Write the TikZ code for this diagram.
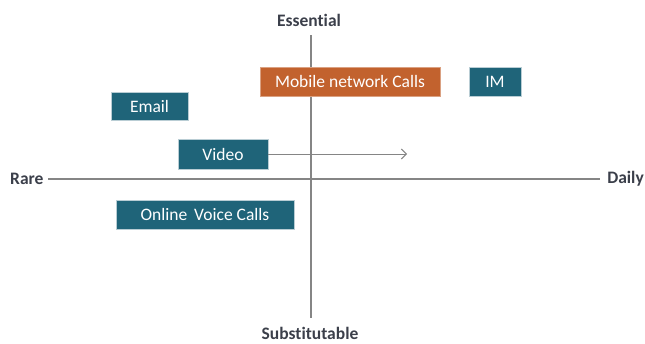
\documentclass[tikz,border=0pt]{standalone}
\usepackage{fontspec}
\setmainfont{Carlito}[Ligatures={NoCommon,NoContextual}]
\usetikzlibrary{arrows.meta}
\definecolor{tealbox}{HTML}{1F6479}
\definecolor{orangebox}{HTML}{C2622E}
\definecolor{boxedge}{HTML}{B9CDD4}
\definecolor{axisgray}{HTML}{858585}
\definecolor{labelink}{HTML}{3B3F4A}
\tikzset{
  usage/.style={
    draw=boxedge,
    fill=tealbox,
    line width=0.6pt,
    minimum height=29pt,
    inner sep=0pt,
    text=white,
    font=\fontsize{17.5}{20}\selectfont
  },
  highlight/.style={usage,fill=orangebox,draw=orangebox!60!white},
  axis line/.style={draw=axisgray,line width=1.1pt},
  axis label/.style={font=\bfseries\fontsize{17.5}{21}\selectfont,text=labelink,inner sep=0pt},
  shift arrow/.style={draw=axisgray,line width=1pt,-{Straight Barb[length=5pt,width=10pt]}}
}

\begin{document}
\begin{tikzpicture}[x=1pt,y=-1pt]
  \useasboundingbox (0,0) rectangle (645,343);

  % axes
  \coordinate (top) at (311,35);
  \coordinate (bottom) at (311,318);
  \coordinate (left) at (48,179);
  \coordinate (right) at (600,179);
  \draw[axis line] (top) -- (bottom);
  \draw[axis line] (left) -- (right);

  \node[axis label] (essential) at (309,20) {Essential};
  \node[axis label] (substitutable) at (310,333) {Substitutable};
  \node[axis label,anchor=west] (rare) at (10,179) {Rare};
  \node[axis label,anchor=east] (daily) at (644,179) {Daily};

  % usage boxes
  \node[highlight,minimum width=180pt] (mobile) at (350,81.5) {Mobile network Calls};
  \node[usage,minimum width=52pt] (im) at (495,81.5) {IM};
  \node[usage,minimum width=77pt,minimum height=28pt] (email) at (149.5,106) {Email};
  \node[usage,minimum width=90pt,minimum height=30pt] (video) at (223,154) {Video};
  \node[usage,minimum width=178pt] (voice) at (205,214.5) {Online\, Voice Calls};

  \coordinate (videotarget) at (407,154);
  \draw[shift arrow] (video.east) -- (videotarget);
\end{tikzpicture}
\end{document}
